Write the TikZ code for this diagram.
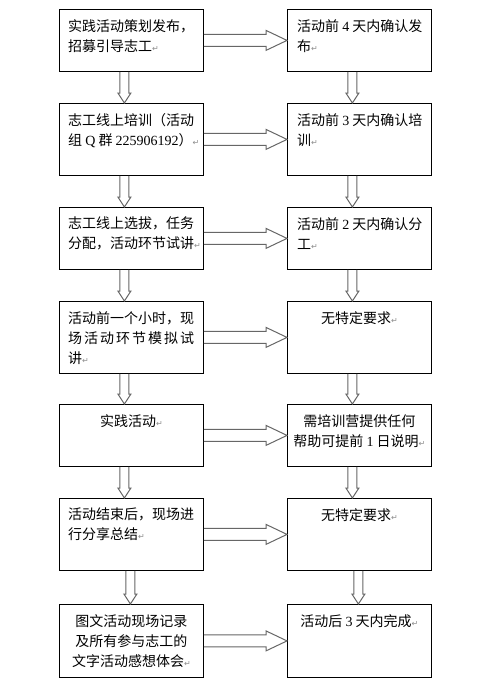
\documentclass[tikz,border=0pt]{standalone}
\usepackage{fontspec}
\setmainfont{Noto Sans CJK SC}
\newfontfamily\latinfont{Liberation Serif}
\newfontfamily\symfont{DejaVu Sans}
\usetikzlibrary{calc}

\newcommand{\lat}[1]{{\latinfont #1}}
\newcommand{\pmk}{{\symfont\fontsize{8}{8}\selectfont\color{black!45}↵}}
% hollow block arrows between boxes
\newcommand{\harrow}[2]{\draw[blockarrow] ($(#1.east)+(0,6)$) -- ($(#2.west)+(-21,6)$) -- ($(#2.west)+(-21,10)$) -- (#2.west) -- ($(#2.west)+(-21,-10)$) -- ($(#2.west)+(-21,-6)$) -- ($(#1.east)+(0,-6)$);}
\newcommand{\varrow}[3]{\draw[blockarrow] ($(#1.south)+(#3-4.5,0)$) -- ($(#2.north)+(#3-4.5,-10)$) -- ($(#2.north)+(#3-6.5,-10)$) -- ($(#2.north)+(#3,0)$) -- ($(#2.north)+(#3+6.5,-10)$) -- ($(#2.north)+(#3+4.5,-10)$) -- ($(#1.south)+(#3+4.5,0)$);}

\tikzset{
  box/.style={draw, line width=0.8pt, minimum width=144pt, inner sep=0pt, anchor=north west},
  lefttext/.style={anchor=north west, inner sep=0pt, align=left, font=\fontsize{14}{20}\selectfont},
  midtext/.style={anchor=north, inner sep=0pt, align=center, font=\fontsize{14}{20}\selectfont},
  blockarrow/.style={draw=black!60, line width=1pt, line join=miter}
}

\begin{document}
\begin{tikzpicture}[x=1pt,y=-1pt]
\useasboundingbox (0,0) rectangle (497,696);
% left column
\node[box, minimum height=62pt] (l1) at (59,9) {};
\node[box, minimum height=72pt] (l2) at (59,103) {};
\node[box, minimum height=62pt] (l3) at (59,207) {};
\node[box, minimum height=72pt] (l4) at (59,301) {};
\node[box, minimum height=62pt] (l5) at (59,404) {};
\node[box, minimum height=72pt] (l6) at (59,498) {};
\node[box, minimum height=73pt] (l7) at (59,604) {};
% right column
\node[box, minimum height=62pt] (r1) at (287,9) {};
\node[box, minimum height=72pt] (r2) at (287,103) {};
\node[box, minimum height=62pt] (r3) at (287,207) {};
\node[box, minimum height=72pt] (r4) at (287,301) {};
\node[box, minimum height=62pt] (r5) at (287,404) {};
\node[box, minimum height=72pt] (r6) at (287,498) {};
\node[box, minimum height=73pt] (r7) at (287,604) {};

% texts
\node[lefttext] (l1t) at ($(l1.north west)+(9,10)$) {实践活动策划发布，\\招募引导志工\pmk};
\node[lefttext] (l2t) at ($(l2.north west)+(9,10)$) {志工线上培训（活动\\组 \lat{Q} 群 \lat{225906192}）\pmk};
\node[lefttext] (l3t) at ($(l3.north west)+(9,10)$) {志工线上选拔，任务\\分配，活动环节试讲\pmk};
\node[lefttext] (l4t) at ($(l4.north west)+(9,10)$) {活动前一个小时，现\\\makebox[126pt][s]{场\hfil 活\hfil 动\hfil 环\hfil 节\hfil 模\hfil 拟\hfil 试}\\讲\pmk};
\node[midtext] (l5t) at ($(l5.north)+(0,10)$) {实践活动\pmk};
\node[lefttext] (l6t) at ($(l6.north west)+(9,10)$) {活动结束后，现场进\\行分享总结\pmk};
\node[midtext] (l7t) at ($(l7.north)+(0,10)$) {图文活动现场记录\\及所有参与志工的\\文字活动感想体会\pmk};

\node[lefttext] (r1t) at ($(r1.north west)+(10,10)$) {活动前 \lat{4} 天内确认发\\布\pmk};
\node[lefttext] (r2t) at ($(r2.north west)+(10,10)$) {活动前 \lat{3} 天内确认培\\训\pmk};
\node[lefttext] (r3t) at ($(r3.north west)+(10,10)$) {活动前 \lat{2} 天内确认分\\工\pmk};
\node[midtext] (r4t) at ($(r4.north)+(0,10)$) {无特定要求\pmk};
\node[midtext] (r5t) at ($(r5.north)+(0,10)$) {需培训营提供任何\\帮助可提前 \lat{1} 日说明\pmk};
\node[midtext] (r6t) at ($(r6.north)+(0,10)$) {无特定要求\pmk};
\node[midtext] (r7t) at ($(r7.north)+(0,10)$) {活动后 \lat{3} 天内完成\pmk};

% arrows
\foreach \i in {1,...,7} {\harrow{l\i}{r\i}}
\foreach \a/\b/\dx in {1/2/-7,2/3/-7,3/4/-7,4/5/-7,5/6/-7,6/7/-1} {
  \varrow{l\a}{l\b}{\dx}
  \varrow{r\a}{r\b}{\dx}
}
\end{tikzpicture}
\end{document}
